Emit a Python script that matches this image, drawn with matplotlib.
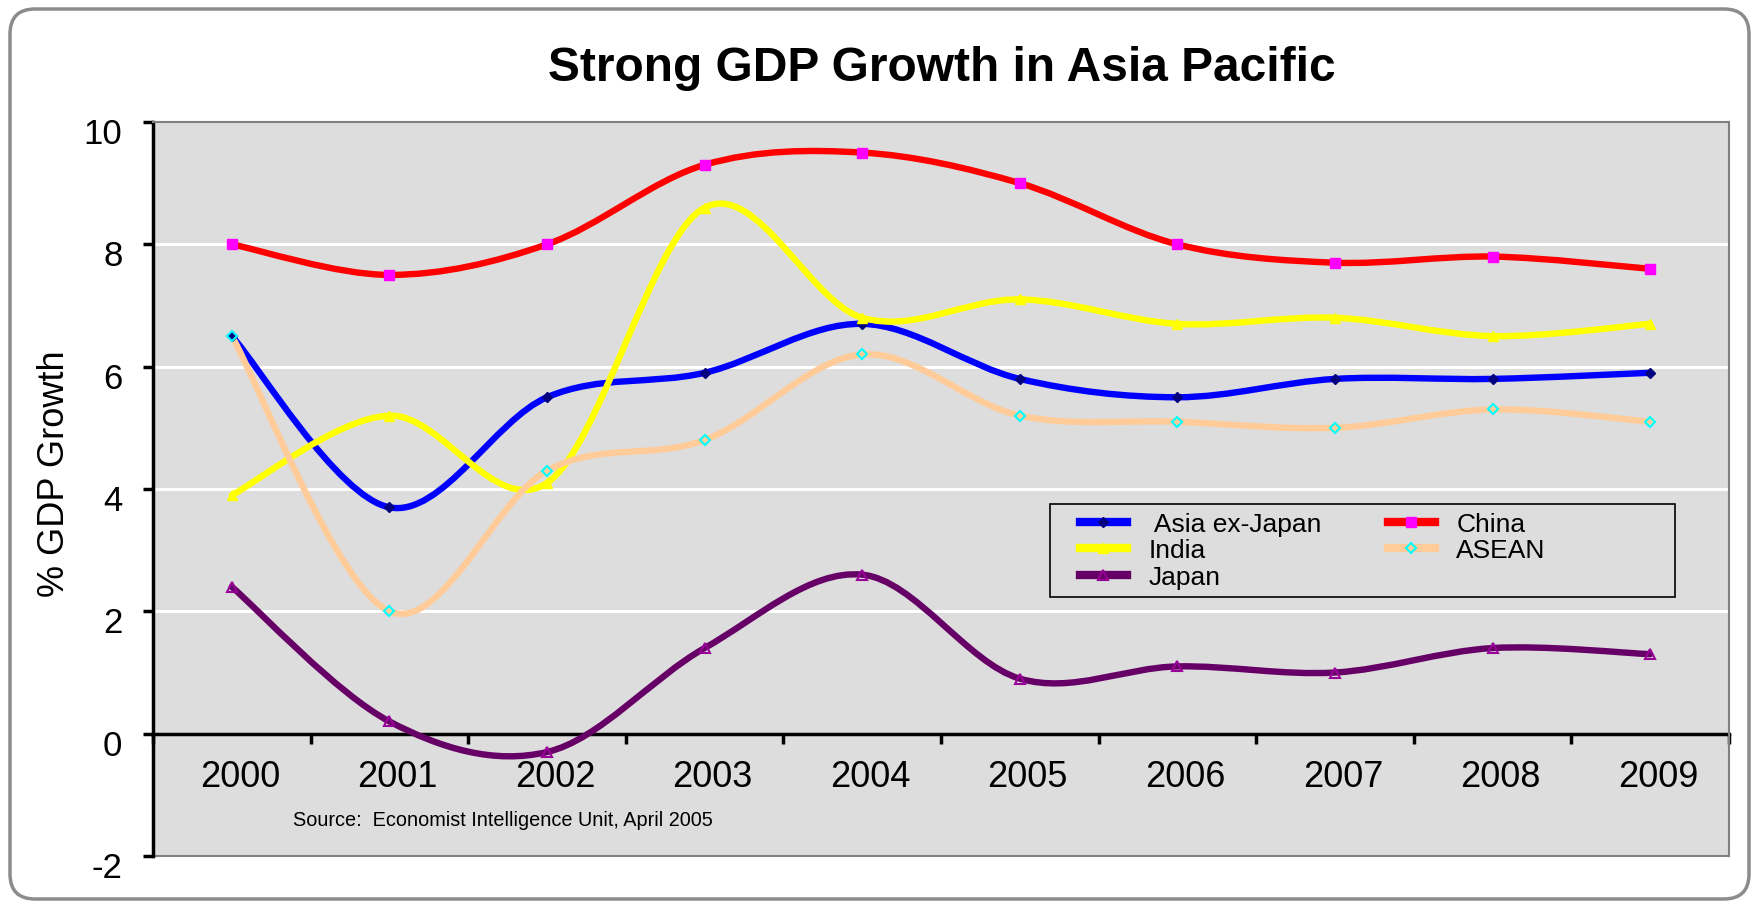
import numpy as np
import matplotlib
matplotlib.use("Agg")
import matplotlib.pyplot as plt
import matplotlib.transforms as mtransforms
from matplotlib.path import Path
from matplotlib.patches import PathPatch, FancyBboxPatch, Rectangle
from matplotlib.lines import Line2D

plt.rcParams['font.family'] = ['Liberation Sans', 'DejaVu Sans']

years = ['2000', '2001', '2002', '2003', '2004', '2005', '2006', '2007', '2008', '2009']
asia_ex_japan = [6.5, 3.7, 5.5, 5.9, 6.7, 5.8, 5.5, 5.8, 5.8, 5.9]
china = [8.0, 7.5, 8.0, 9.3, 9.5, 9.0, 8.0, 7.7, 7.8, 7.6]
india = [3.9, 5.2, 4.1, 8.6, 6.8, 7.1, 6.7, 6.8, 6.5, 6.7]
asean = [6.5, 2.0, 4.3, 4.8, 6.2, 5.2, 5.1, 5.0, 5.3, 5.1]
japan = [2.4, 0.2, -0.3, 1.4, 2.6, 0.9, 1.1, 1.0, 1.4, 1.3]
y_ticks = [-2, 0, 2, 4, 6, 8, 10]


def smooth_path(xs, ys):
    # Excel-style smoothed line: cubic Bezier segments (Catmull-Rom)
    pts = np.column_stack([xs, ys]).astype(float)
    ext = np.vstack([pts[0], pts, pts[-1]])
    verts = [pts[0]]
    codes = [Path.MOVETO]
    for i in range(len(pts) - 1):
        p0, p1, p2, p3 = ext[i], ext[i + 1], ext[i + 2], ext[i + 3]
        verts += [p1 + (p2 - p0) / 6.0, p2 - (p3 - p1) / 6.0, p2]
        codes += [Path.CURVE4] * 3
    return Path(verts, codes)


fig = plt.figure(figsize=(17.51, 9.03), dpi=100)

# rounded outer frame
fig.patches.append(FancyBboxPatch((0.1, 0.03), 17.39, 8.9,
                                  boxstyle="round,pad=0,rounding_size=0.25",
                                  transform=fig.dpi_scale_trans,
                                  facecolor='white', edgecolor='#8c8c8c',
                                  linewidth=2.5, zorder=-10))

ax = fig.add_axes([0.0874, 0.0509, 0.9, 0.8129])
ax.set_facecolor('#dddddd')

x = np.arange(len(years))
series = [
    (' Asia ex-Japan', asia_ex_japan, '#0000ff',
     dict(marker='D', mfc='#000080', ms=5, mec='#000080')),
    ('China', china, '#ff0000',
     dict(marker='s', mfc='#ff00ff', ms=7, mec='#ff00ff')),
    ('India', india, '#ffff00',
     dict(marker='^', mfc='#ffff00', ms=7, mec='#ffff00')),
    ('ASEAN', asean, '#ffcc99',
     dict(marker='D', mfc='none', mec='#00ffff', ms=5, mew=1.5)),
    ('Japan', japan, '#660066',
     dict(marker='^', mfc='none', mec='#990099', ms=7, mew=1.5)),
]

handles = {}
for name, vals, col, mk in series:
    ax.add_patch(PathPatch(smooth_path(x, vals), fill=False, edgecolor=col,
                           linewidth=4.6, capstyle='round', zorder=3))
    ax.plot(x, vals, linestyle='none', zorder=4, **mk)
    handles[name] = Line2D([], [], color=col, linewidth=6, **mk)

ax.set_xlim(-0.5, 9.5)
ax.set_ylim(-2, 10)

for yv in [2, 4, 6, 8]:
    ax.axhline(yv, color='white', linewidth=2.2, zorder=1)
ax.axhline(-2, color='#808080', linewidth=1.5, zorder=2, clip_on=False)

ax.spines['bottom'].set_position(('data', 0))
ax.spines['bottom'].set_linewidth(2.5)
ax.spines['bottom'].set_zorder(2)
ax.spines['left'].set_linewidth(2.5)
for s in ['top', 'right']:
    ax.spines[s].set_color('#808080')
    ax.spines[s].set_linewidth(1.5)

ax.set_xticks(np.arange(-0.5, 10, 1.0))
ax.set_xticklabels([])
ax.tick_params(axis='x', which='major', direction='out', length=7, width=2.5)
ax.set_xticks(x, minor=True)
ax.set_xticklabels(years, minor=True)
ax.tick_params(axis='x', which='minor', length=0, pad=18, labelsize=26)
shift_x = mtransforms.ScaledTranslation(0.08, 0, fig.dpi_scale_trans)
for lab in ax.get_xticklabels(minor=True):
    lab.set_transform(lab.get_transform() + shift_x)

ax.set_yticks(y_ticks)
ax.set_yticklabels([str(v) for v in y_ticks])
ax.tick_params(axis='y', direction='out', length=7, width=2.5, pad=15, labelsize=25)
shift_y = mtransforms.ScaledTranslation(0, -0.08, fig.dpi_scale_trans)
for lab in ax.get_yticklabels():
    lab.set_transform(lab.get_transform() + shift_y)

ax.text(0.388, -1.41, 'Source:  Economist Intelligence Unit, April 2005',
        fontsize=14.3, va='center', ha='left')

# legend box
ax.add_patch(Rectangle((0.569, 0.353), 0.397, 0.127, transform=ax.transAxes,
                       facecolor='#dddddd', edgecolor='black', linewidth=1.2,
                       zorder=5))
order = [' Asia ex-Japan', 'India', 'Japan', 'China', 'ASEAN']
leg = ax.legend([handles[n] for n in order], order, ncol=2,
                loc='upper left', bbox_to_anchor=(0.588, 0.469),
                fontsize=19, frameon=False, borderpad=0, borderaxespad=0,
                handlelength=1.8, handletextpad=0.8, labelspacing=0.1,
                columnspacing=2.5)
leg.set_zorder(6)

fig.text(0.538, 0.9236, 'Strong GDP Growth in Asia Pacific', fontsize=34.5,
         fontweight='bold', ha='center', va='center')
fig.text(0.031, 0.475, '% GDP Growth', fontsize=26, rotation=90,
         ha='center', va='center')

fig.savefig('out.png', dpi=100)
